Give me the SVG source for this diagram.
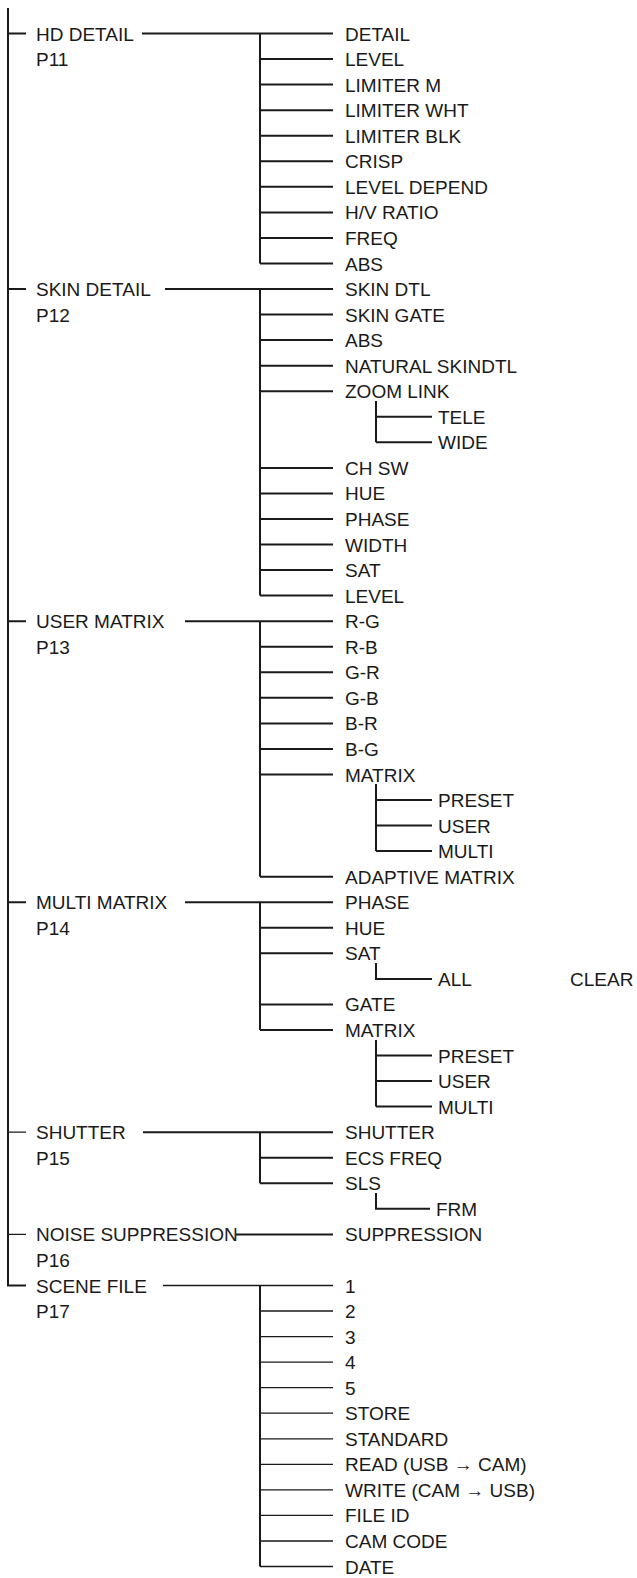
<svg xmlns="http://www.w3.org/2000/svg" width="637" height="1578" viewBox="0 0 637 1578">
<style>
text{font-family:"Liberation Sans",Arial,sans-serif;font-size:19px;fill:#1a1a1a}
.l{stroke:#1a1a1a;stroke-width:2;fill:none}
.t{stroke:#1a1a1a;stroke-width:1.3;fill:none}
</style>
<rect width="637" height="1578" fill="#fff"/>
<g id="connectors">
<path class="l" d="M8 8V1285.5H26M8 33.5H26M8 289H26M8 621.2H26M8 902.2H26"/>
<path class="t" d="M8 1132.2H26M8 1234.4H26"/>
<path class="l" d="M142 33.5H333M260 33.5V263.5M260 59.1H333M260 84.6H333M260 110.2H333M260 135.7H333M260 161.3H333M260 186.8H333M260 212.4H333M260 237.9H333M260 263.5H333"/>
<path class="l" d="M165 289H333M260 289V595.6M260 314.6H333M260 340.1H333M260 365.7H333M260 391.2H333M260 467.9H333M260 493.4H333M260 519H333M260 544.5H333M260 570.1H333M260 595.6H333M376 401V442.3M376 416.8H432M376 442.3H432"/>
<path class="l" d="M185 621.2H333M260 621.2V876.7M260 646.7H333M260 672.3H333M260 697.8H333M260 723.4H333M260 748.9H333M260 774.5H333M260 876.7H333M376 784V851.1M376 800H432M376 825.6H432M376 851.1H432"/>
<path class="l" d="M185 902.2H333M260 902.2V1030M260 927.8H333M260 953.3H333M260 1004.4H333M260 1030H333M376 963V978.9H432M376 1040V1106.6M376 1055.5H432M376 1081.1H432M376 1106.6H432"/>
<path class="l" d="M143 1132.2H333M260 1132.2V1183.3M260 1157.7H333M260 1183.3H333M376 1193V1208.8H430M236 1234.4H333"/>
<path class="t" d="M163 1285.5H333M333 1311H260M260 1336.6H333M260 1362.1H333M260 1387.7H333M260 1413.2H333M260 1438.8H333M260 1464.3H333M260 1489.9H333M260 1515.4H333M260 1541H333M260 1566.5H333"/>
<path class="l" d="M260 1285.5V1566.5"/>
</g>
<g id="hd-detail"><text x="36" y="40.5">HD DETAIL</text><text x="36" y="66">P11</text></g>
<g id="hd-items">
<text x="345" y="40.5">DETAIL</text><text x="345" y="66">LEVEL</text><text x="345" y="91.6">LIMITER M</text><text x="345" y="117.2">LIMITER WHT</text><text x="345" y="142.7">LIMITER BLK</text><text x="345" y="168.3">CRISP</text><text x="345" y="193.8">LEVEL DEPEND</text><text x="345" y="219.4">H/V RATIO</text><text x="345" y="244.9">FREQ</text><text x="345" y="270.5">ABS</text>
</g>
<g id="skin-detail"><text x="36" y="296">SKIN DETAIL</text><text x="36" y="321.6">P12</text></g>
<g id="skin-items">
<text x="345" y="296">SKIN DTL</text><text x="345" y="321.6">SKIN GATE</text><text x="345" y="347.1">ABS</text><text x="345" y="372.7">NATURAL SKINDTL</text><text x="345" y="398.2">ZOOM LINK</text><text x="438" y="423.8">TELE</text><text x="438" y="449.3">WIDE</text><text x="345" y="474.9">CH SW</text><text x="345" y="500.4">HUE</text><text x="345" y="526">PHASE</text><text x="345" y="551.5">WIDTH</text><text x="345" y="577.1">SAT</text><text x="345" y="602.6">LEVEL</text>
</g>
<g id="user-matrix"><text x="36" y="628.2">USER MATRIX</text><text x="36" y="653.7">P13</text></g>
<g id="user-items">
<text x="345" y="628.2">R-G</text><text x="345" y="653.7">R-B</text><text x="345" y="679.3">G-R</text><text x="345" y="704.8">G-B</text><text x="345" y="730.4">B-R</text><text x="345" y="755.9">B-G</text><text x="345" y="781.5">MATRIX</text><text x="438" y="807">PRESET</text><text x="438" y="832.6">USER</text><text x="438" y="858.1">MULTI</text><text x="345" y="883.7">ADAPTIVE MATRIX</text>
</g>
<g id="multi-matrix"><text x="36" y="909.2">MULTI MATRIX</text><text x="36" y="934.8">P14</text></g>
<g id="multi-items">
<text x="345" y="909.2">PHASE</text><text x="345" y="934.8">HUE</text><text x="345" y="960.3">SAT</text><text x="438" y="985.9">ALL</text><text x="570" y="985.9">CLEAR</text><text x="345" y="1011.4">GATE</text><text x="345" y="1037">MATRIX</text><text x="438" y="1062.5">PRESET</text><text x="438" y="1088.1">USER</text><text x="438" y="1113.6">MULTI</text>
</g>
<g id="shutter"><text x="36" y="1139.2">SHUTTER</text><text x="36" y="1164.7">P15</text></g>
<g id="shutter-items">
<text x="345" y="1139.2">SHUTTER</text><text x="345" y="1164.7">ECS FREQ</text><text x="345" y="1190.3">SLS</text><text x="436" y="1215.8">FRM</text>
</g>
<g id="noise"><text x="36" y="1241.4">NOISE SUPPRESSION</text><text x="36" y="1266.9">P16</text></g>
<g id="noise-items"><text x="345" y="1241.4">SUPPRESSION</text></g>
<g id="scene-file"><text x="36" y="1292.5">SCENE FILE</text><text x="36" y="1318">P17</text></g>
<g id="scene-items">
<text x="345" y="1292.5">1</text><text x="345" y="1318">2</text><text x="345" y="1343.6">3</text><text x="345" y="1369.1">4</text><text x="345" y="1394.7">5</text><text x="345" y="1420.2">STORE</text><text x="345" y="1445.8">STANDARD</text><text x="345" y="1471.3">READ (USB → CAM)</text><text x="345" y="1496.9">WRITE (CAM → USB)</text><text x="345" y="1522.4">FILE ID</text><text x="345" y="1548">CAM CODE</text><text x="345" y="1573.5">DATE</text>
</g>
</svg>
